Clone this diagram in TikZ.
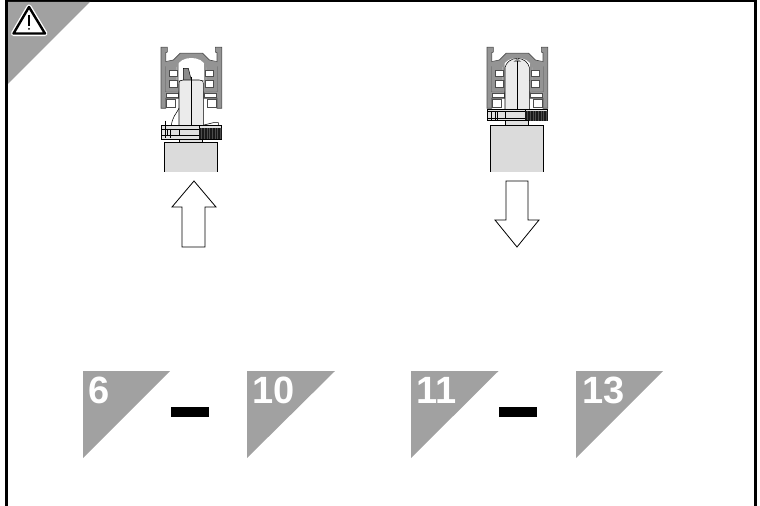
\documentclass[tikz,border=0pt]{standalone}
\usepackage{fontspec}
\setmainfont{Liberation Sans}
\colorlet{tabgray}{black!37}
\colorlet{railgray}{black!42}
\colorlet{bodygray}{black!8}
\colorlet{boxgray}{black!14}
\tikzset{
	numtab/.style={fill=tabgray},
	tabnum/.style={anchor=base west, inner sep=0pt, text=white, font=\fontsize{28.5}{28.5}\selectfont\bfseries},
	bigarrow/.style={draw=black, fill=white, line width=0.6pt, line join=miter},
	dashbar/.style={fill=black},
	slot/.style={fill=white, draw=black!70, line width=0.3pt},
	rail/.style={fill=railgray, draw=black!70, line width=0.5pt}
}
% the profile is written in 3x pixels, centre line at x=184
\newcommand{\railprofile}{
	\draw[rail] (93,52) -- (112,52) -- (112,66) -- (107,68) -- (107,95) -- (130,90) -- (150,70) -- (218,70) -- (238,90) -- (261,95) -- (261,68) -- (256,66) -- (256,52) -- (275,52) -- (275,235) -- (261,235) -- (261,205) -- (222,205) -- (222,185) -- (261,185) -- (261,110) -- (222,110) -- (222,150) -- (146,150) -- (146,110) -- (107,110) -- (107,185) -- (146,185) -- (146,205) -- (107,205) -- (107,235) -- (93,235) -- cycle;
	\fill[railgray] (107,95) rectangle (146,185) (222,95) rectangle (261,185);
	\fill[white] (140,112) .. controls (145,92) and (165,84) .. (184,84) .. controls (203,84) and (223,92) .. (228,112) -- (228,150) -- (140,150) -- cycle;
	\fill[railgray] (140,100) rectangle (146,185) (222,100) rectangle (228,185);
	\draw[slot] (118,120) rectangle (143,140);
	\draw[slot] (118,152) rectangle (143,172);
	\draw[slot] (225,120) rectangle (250,140);
	\draw[slot] (225,152) rectangle (250,172);
	\draw[slot] (110,191) rectangle (146,201);
	\draw[slot] (222,191) rectangle (258,201);
	\draw[slot] (110,209) rectangle (135,232);
	\draw[slot] (233,209) rectangle (258,232);
}
% ribbed knob, dark part of the foot
\newcommand{\ribbedknob}[2]{
	\fill[black!90] (208,#1) rectangle (275,#2);
	\foreach \ribx in {214,222,...,270}
		\draw[black!70, line width=0.25pt] (\ribx,#1) -- (\ribx,#2);
}
\begin{document}
\begin{tikzpicture}[x=0.75pt, y=-0.75pt]
	\useasboundingbox (0,0) rectangle (760,506);

	% frame
	\draw[line width=2.2pt] (6.5,506) -- (6.5,1) -- (755.5,1) -- (755.5,506);

	% corner with warning sign
	\fill[numtab] (8,2) -- (90,2) -- (8,84) -- cycle;
	\draw[white, line width=3.8pt, line join=round, fill=white] (29,7) -- (45,33.5) -- (13.5,33.5) -- cycle;
	\draw[black, line width=1.8pt, line join=round, fill=white] (29,7) -- (45,33.5) -- (13.5,33.5) -- cycle;
	\draw[line width=0.8pt] (29,15) -- (29,26);
	\fill (29,29) circle (1);

	% left section, pushed up
	\begin{scope}[shift={(130,30)}, x=0.25pt, y=-0.25pt]
		\railprofile
		\fill[black!45] (160,150) -- (160,115) -- (175,115) -- (184,150) -- cycle;
		\draw[line width=0.35pt] (160,150) -- (160,115) -- (175,115) -- (184,150);
		\draw[fill=bodygray, line width=0.4pt] (147,290) -- (147,162) .. controls (147,152) and (152,150) .. (160,150) -- (208,150) .. controls (216,150) and (220,152) .. (220,162) -- (220,290);
		\draw[line width=0.6pt] (184,140) -- (184,325);
		\draw[line width=0.4pt] (147,235) .. controls (140,250) and (125,262) .. (124,290);
		\draw[line width=0.4pt] (222,285) -- (250,278) -- (265,278) -- (265,288);
		\draw[fill=black!12, line width=0.5pt] (93,287) rectangle (208,327);
		\draw[fill=black!12, line width=0.4pt] (208,287) rectangle (275,327);
		\ribbedknob{295}{327}
		\draw[line width=0.3pt] (93,297) -- (208,297) (93,317) -- (208,317);
		\draw[line width=0.5pt] (107,272) -- (107,325) (122,297) -- (122,325) (112,297) -- (112,317) (147,297) -- (147,317);
		\draw[fill=black!12, line width=0.4pt] (148,327) rectangle (218,338);
		\fill[boxgray] (103,338) rectangle (262,425);
		\draw[line width=0.7pt] (103,425) -- (103,338) -- (262,338) -- (262,425);
	\end{scope}

	% right section, pulled down
	\begin{scope}[shift={(456,30)}, x=0.25pt, y=-0.25pt]
		\railprofile
		\draw[fill=bodygray, line width=0.4pt] (147,240) -- (147,112) .. controls (150,98) and (165,85) .. (184,85) .. controls (203,85) and (217,98) .. (220,112) -- (220,240);
		\fill[black!45] (172,96) -- (184,84) -- (196,96) -- cycle;
		\draw[line width=0.6pt] (184,92) -- (184,240);
		\draw[fill=black!12, line width=0.5pt] (93,238) rectangle (208,272);
		\draw[fill=black!12, line width=0.4pt] (208,238) rectangle (275,272);
		\ribbedknob{243}{272}
		\draw[line width=0.3pt] (93,244) -- (208,244) (93,265) -- (208,265);
		\draw[line width=0.5pt] (107,244) -- (107,270) (118,244) -- (118,270) (125,244) -- (125,270) (147,244) -- (147,265);
		\draw[fill=black!12, line width=0.4pt] (149,272) rectangle (217,286);
		\fill[boxgray] (103,286) rectangle (263,425);
		\draw[line width=0.7pt] (103,425) -- (103,286) -- (263,286) -- (263,425);
	\end{scope}

	% arrows
	\draw[bigarrow] (182,247) -- (182,207) -- (172,207) -- (194,181) -- (216,207) -- (205,207) -- (205,247) -- cycle;
	\draw[bigarrow] (506,181) -- (506,220) -- (495,220) -- (517,247) -- (539,220) -- (528,220) -- (528,181) -- cycle;

	% step numbers
	\fill[numtab] (83,371) -- (170,371) -- (83,458) -- cycle;
	\fill[numtab] (247,371) -- (335,371) -- (247,458) -- cycle;
	\fill[numtab] (411,371) -- (498.5,371) -- (411,458) -- cycle;
	\fill[numtab] (576,371) -- (663,371) -- (576,458) -- cycle;
	\node[tabnum] (sixnum) at (88,403) {6};
	\node[tabnum] (tennum) at (252,403) {10};
	\node[tabnum] (elevennum) at (416,403) {11};
	\node[tabnum] (thirteennum) at (582,403) {13};
	\fill[dashbar] (171,407) rectangle (209,417);
	\fill[dashbar] (499,407) rectangle (537,417);
\end{tikzpicture}
\end{document}
